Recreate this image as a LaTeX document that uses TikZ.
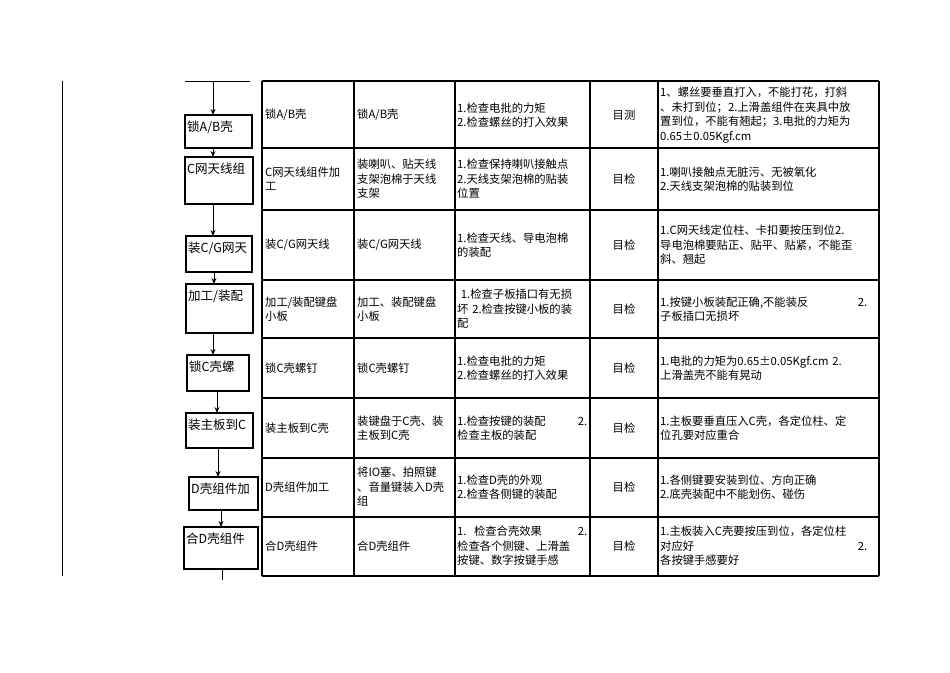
\documentclass[tikz,border=0pt]{standalone}
\usepackage{fontspec}
\setmainfont{Noto Sans CJK SC}
\usetikzlibrary{arrows.meta,calc}
\begin{document}
\begin{tikzpicture}[x=1pt,y=-1pt,
  cell/.style={anchor=west,align=left,inner sep=0pt,font=\fontsize{11.3}{14.5}\selectfont},
  ccell/.style={anchor=center,inner sep=0pt,font=\fontsize{11.3}{14.5}\selectfont},
  arr/.style={-{Stealth[length=6pt,width=5pt]},line width=0.9pt},
  grid/.style={line width=1.3pt}]
\useasboundingbox (0,0) rectangle (950,672);
\draw[line width=0.8pt] (62,81) -- (62,576);
\coordinate (top) at (213,81);
\draw[line width=0.9pt] (185,81) -- (250,81);
% flow boxes
\newcommand{\fb}[6]{\draw[line width=1.1pt] (#1,#3) rectangle (#2,#4); \node[anchor=west,inner sep=0pt,font=\fontsize{12.5}{14}\selectfont] (#5) at (#1+2,#3+12) {#6};}
\fb{185}{252}{115}{148}{b1}{锁A/B壳}
\fb{185}{253}{157}{204}{b2}{C网天线组}
\fb{186}{252}{236}{272}{b3}{装C/G网天}
\fb{186}{253}{284}{333}{b4}{加工/装配}
\fb{187}{249}{355}{391}{b5}{锁C壳螺}
\fb{186}{253}{413}{448}{b6}{装主板到C}
\fb{189}{258}{477}{510}{b7}{D壳组件加}
\fb{184}{258}{527}{569}{b8}{合D壳组件}
\draw[arr] (top) -- (213,115);
\draw[arr] (213,148) -- (213,157);
\draw[arr] (213,204) -- (213,236);
\draw[arr] (214,272) -- (214,284);
\draw[arr] (213,333) -- (213,355);
\draw[arr] (217,391) -- (217,413);
\draw[arr] (218,448) -- (218,477);
\draw[arr] (221,510) -- (221,527);
\draw[line width=0.9pt] (222,569) -- (222,580);
% table
\foreach \x in {262,354,455,590,658,879} \draw[grid] (\x,81) -- (\x,576);
\foreach \y in {81,148,210,280,338,398,458,517,576} \draw[grid] (262,\y) -- (879,\y);
\newcommand{\rowx}[7]{%
 \node[cell,text width=86pt] (r#1a) at (265,#2) {#3};
 \node[cell,text width=94pt] (r#1b) at (357,#2) {#4};
 \node[cell,text width=130pt] (r#1c) at (457,#2) {#5};
 \node[ccell] (r#1d) at (624,#2) {#6};
 \node[cell,text width=207pt] (r#1e) at (660,#2) {#7};}
\rowx{1}{115}{锁A/B壳}{锁A/B壳}{1.检查电批的力矩\\2.检查螺丝的打入效果}{目测}{1、螺丝要垂直打入，不能打花，打斜\\、未打到位；2.上滑盖组件在夹具中放\\置到位，不能有翘起；3.电批的力矩为\\0.65±0.05Kgf.cm}
\rowx{2}{179}{C网天线组件加\\工}{装喇叭、贴天线\\支架泡棉于天线\\支架}{1.检查保持喇叭接触点\\2.天线支架泡棉的贴装\\位置}{目检}{1.喇叭接触点无脏污、无被氧化\\2.天线支架泡棉的贴装到位}
\rowx{3}{245}{装C/G网天线}{装C/G网天线}{1.检查天线、导电泡棉\\的装配}{目检}{1.C网天线定位柱、卡扣要按压到位2.\\导电泡棉要贴正、贴平、贴紧，不能歪\\斜、翘起}
\rowx{4}{309}{加工/装配键盘\\小板}{加工、装配键盘\\小板}{\ 1.检查子板插口有无损\\坏 2.检查按键小板的装\\配}{目检}{1.按键小板装配正确,不能装反\hfill 2.\\子板插口无损坏}
\rowx{5}{368}{锁C壳螺钉}{锁C壳螺钉}{1.检查电批的力矩\\2.检查螺丝的打入效果}{目检}{1.电批的力矩为0.65±0.05Kgf.cm 2.\\上滑盖壳不能有晃动}
\rowx{6}{428}{装主板到C壳}{装键盘于C壳、装\\主板到C壳}{1.检查按键的装配\hfill 2.\\检查主板的装配}{目检}{1.主板要垂直压入C壳，各定位柱、定\\位孔要对应重合}
\rowx{7}{487}{D壳组件加工}{将IO塞、拍照键\\、音量键装入D壳\\组}{1.检查D壳的外观\\2.检查各侧键的装配}{目检}{1.各侧键要安装到位、方向正确\\2.底壳装配中不能划伤、碰伤}
\rowx{8}{546}{合D壳组件}{合D壳组件}{1.\ \ 检查合壳效果\hfill 2.\\检查各个侧键、上滑盖\\按键、数字按键手感}{目检}{1.主板装入C壳要按压到位，各定位柱\\对应好\hfill 2.\\各按键手感要好}
\end{tikzpicture}
\end{document}
